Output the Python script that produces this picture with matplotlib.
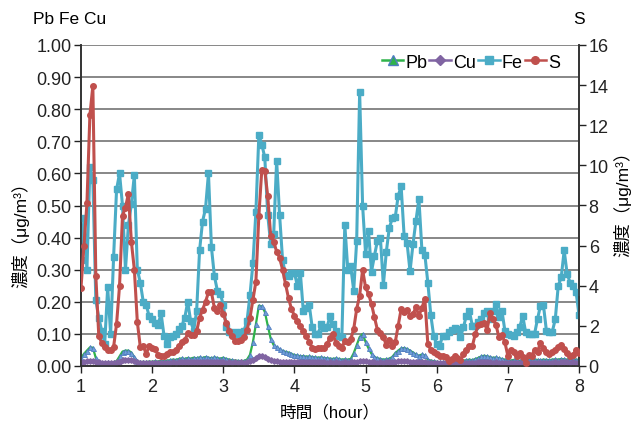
import numpy as np
import matplotlib
matplotlib.use("Agg")
import matplotlib.pyplot as plt
from matplotlib.lines import Line2D

plt.rcParams['font.family'] = ['Liberation Sans', 'Noto Sans CJK JP', 'DejaVu Sans']

# Sampling every 2.5 minutes from hour 1 to hour 8
hours = 1 + np.arange(169) / 24.0

fe = [0.33, 0.46, 0.30, 0.62, 0.58, 0.205, 0.15, 0.11, 0.07, 0.245,
      0.10, 0.34, 0.55, 0.60, 0.50, 0.30, 0.44, 0.505, 0.595, 0.30,
      0.26, 0.20, 0.19, 0.155, 0.145, 0.135, 0.127, 0.165, 0.095, 0.07,
      0.09, 0.095, 0.10, 0.115, 0.125, 0.15, 0.20, 0.14, 0.11, 0.17,
      0.36, 0.45, 0.49, 0.60, 0.37, 0.28, 0.235, 0.225, 0.19, 0.12,
      0.105, 0.10, 0.105, 0.10, 0.105, 0.11, 0.14, 0.22, 0.32, 0.48,
      0.72, 0.69, 0.65, 0.47, 0.38, 0.41, 0.64, 0.47, 0.33, 0.285,
      0.28, 0.29, 0.29, 0.25, 0.29, 0.17, 0.18, 0.19, 0.12, 0.10,
      0.10, 0.13, 0.117, 0.12, 0.157, 0.13, 0.11, 0.094, 0.089, 0.44,
      0.30, 0.31, 0.235, 0.39, 0.853, 0.50, 0.35, 0.42, 0.294, 0.344,
      0.39, 0.40, 0.252, 0.356, 0.43, 0.46, 0.463, 0.53, 0.56, 0.406,
      0.383, 0.295, 0.38, 0.453, 0.52, 0.362, 0.347, 0.26, 0.159, 0.092,
      0.068, 0.063, 0.094, 0.094, 0.105, 0.113, 0.117, 0.115, 0.089, 0.12,
      0.157, 0.172, 0.126, 0.124, 0.138, 0.146, 0.165, 0.172, 0.146, 0.17,
      0.193, 0.152, 0.172, 0.11, 0.10, 0.097, 0.092, 0.107, 0.12, 0.157,
      0.105, 0.10, 0.10, 0.10, 0.146, 0.188, 0.19, 0.11, 0.107, 0.107,
      0.146, 0.25, 0.276, 0.36, 0.287, 0.26, 0.25, 0.232, 0.159]

s = [3.9, 6.0, 8.1, 12.5, 13.96, 4.5, 1.5, 1.15, 0.95, 0.82,
     0.81, 0.95, 2.1, 4.0, 7.5, 7.9, 8.59, 6.18, 4.8, 2.2,
     0.95, 0.98, 0.61, 0.98, 0.91, 0.86, 0.55, 0.48, 0.50, 0.60,
     0.72, 0.72, 0.80, 1.0, 1.2, 1.28, 1.62, 1.53, 1.56, 1.72,
     2.4, 2.8, 3.2, 3.67, 3.67, 2.9, 2.76, 3.04, 2.6, 2.15,
     1.72, 1.48, 1.27, 1.26, 1.32, 1.45, 1.8, 2.4, 3.3, 4.2,
     7.5, 9.79, 9.74, 8.46, 6.46, 6.2, 5.7, 5.4, 4.8, 4.09,
     3.38, 2.85, 2.5, 2.25, 2.0, 1.75, 1.5, 1.21, 0.9, 0.86,
     0.88, 0.88, 0.92, 1.1, 1.4, 1.6, 1.15, 1.01, 0.88, 1.26,
     1.18, 1.35, 1.84, 2.84, 3.51, 4.80, 3.92, 3.59, 3.09, 2.43,
     1.8, 1.64, 1.43, 1.05, 1.31, 1.01, 1.18, 2.01, 2.84, 2.71,
     2.79, 2.51, 2.59, 2.92, 2.51, 2.9, 3.34, 1.10, 0.81, 0.70,
     0.6, 0.51, 0.51, 0.45, 0.27, 0.35, 0.48, 0.38, 0.32, 0.60,
     0.81, 1.01, 0.98, 1.59, 2.04, 2.09, 2.14, 1.81, 2.62, 2.34,
     2.04, 1.43, 1.55, 1.18, 0.51, 0.80, 0.68, 0.48, 0.65, 0.43,
     0.15, 0.55, 0.51, 0.80, 0.71, 1.15, 0.88, 0.68, 0.60, 0.71,
     0.81, 0.95, 1.05, 0.85, 0.65, 0.51, 0.55, 0.80, 0.65]

pb = [0.025, 0.038, 0.048, 0.058, 0.057, 0.025, 0.012, 0.010, 0.010, 0.011,
      0.010, 0.012, 0.015, 0.030, 0.045, 0.048, 0.048, 0.042, 0.027, 0.015,
      0.012, 0.013, 0.012, 0.014, 0.013, 0.015, 0.014, 0.016, 0.015, 0.017,
      0.018, 0.020, 0.019, 0.022, 0.024, 0.022, 0.025, 0.023, 0.026, 0.024,
      0.027, 0.025, 0.028, 0.026, 0.024, 0.027, 0.025, 0.023, 0.026, 0.022,
      0.020, 0.018, 0.017, 0.016, 0.015, 0.016, 0.020, 0.035, 0.075, 0.130,
      0.188, 0.186, 0.169, 0.126, 0.085, 0.065, 0.058, 0.052, 0.047, 0.044,
      0.042, 0.038, 0.034, 0.033, 0.030, 0.031, 0.029, 0.030, 0.028, 0.027,
      0.026, 0.027, 0.025, 0.024, 0.023, 0.022, 0.024, 0.022, 0.020, 0.021,
      0.020, 0.022, 0.040, 0.065, 0.090, 0.100, 0.075, 0.055, 0.038, 0.028,
      0.024, 0.022, 0.020, 0.021, 0.023, 0.028, 0.040, 0.048, 0.055, 0.056,
      0.053, 0.048, 0.042, 0.036, 0.032, 0.036, 0.033, 0.020, 0.017, 0.015,
      0.013, 0.012, 0.012, 0.013, 0.012, 0.014, 0.015, 0.016, 0.014, 0.017,
      0.018, 0.020, 0.018, 0.022, 0.025, 0.030, 0.032, 0.030, 0.028, 0.025,
      0.027, 0.024, 0.022, 0.020, 0.018, 0.017, 0.019, 0.018, 0.016, 0.018,
      0.017, 0.019, 0.018, 0.020, 0.019, 0.018, 0.020, 0.019, 0.018, 0.020,
      0.021, 0.020, 0.022, 0.021, 0.020, 0.019, 0.021, 0.020, 0.019]

cu = [0.012, 0.014, 0.016, 0.017, 0.017, 0.014, 0.011, 0.010, 0.009, 0.010,
      0.009, 0.010, 0.011, 0.014, 0.018, 0.020, 0.020, 0.019, 0.015, 0.011,
      0.009, 0.010, 0.009, 0.010, 0.009, 0.010, 0.009, 0.010, 0.009, 0.010,
      0.010, 0.011, 0.010, 0.011, 0.012, 0.011, 0.012, 0.011, 0.012, 0.011,
      0.012, 0.011, 0.012, 0.012, 0.011, 0.012, 0.011, 0.012, 0.011, 0.010,
      0.011, 0.010, 0.011, 0.010, 0.011, 0.010, 0.012, 0.015, 0.020, 0.025,
      0.030, 0.030, 0.027, 0.022, 0.018, 0.016, 0.015, 0.014, 0.013, 0.013,
      0.012, 0.012, 0.013, 0.012, 0.012, 0.011, 0.012, 0.011, 0.012, 0.011,
      0.011, 0.012, 0.011, 0.010, 0.011, 0.010, 0.011, 0.010, 0.010, 0.011,
      0.010, 0.011, 0.012, 0.014, 0.016, 0.017, 0.015, 0.013, 0.012, 0.011,
      0.010, 0.011, 0.010, 0.011, 0.012, 0.013, 0.014, 0.015, 0.016, 0.016,
      0.015, 0.014, 0.013, 0.013, 0.012, 0.012, 0.011, 0.010, 0.009, 0.009,
      0.008, 0.008, 0.009, 0.008, 0.009, 0.008, 0.009, 0.008, 0.009, 0.009,
      0.010, 0.010, 0.009, 0.010, 0.011, 0.012, 0.012, 0.011, 0.011, 0.010,
      0.011, 0.010, 0.010, 0.009, 0.009, 0.010, 0.009, 0.010, 0.009, 0.010,
      0.009, 0.010, 0.009, 0.010, 0.010, 0.009, 0.010, 0.009, 0.010, 0.010,
      0.011, 0.010, 0.011, 0.012, 0.011, 0.010, 0.011, 0.010, 0.010]

left_ticks = [0.0, 0.1, 0.2, 0.3, 0.4, 0.5, 0.6, 0.7, 0.8, 0.9, 1.0]
right_ticks = [0, 2, 4, 6, 8, 10, 12, 14, 16]
hour_ticks = [1, 2, 3, 4, 5, 6, 7, 8]

C_FE = '#4bacc6'
C_S = '#c0504d'
C_PB = '#2fb34a'
C_PB_EDGE = '#4f7cc0'
C_CU = '#8064a2'
FS = 13

fig = plt.figure(figsize=(6.32, 4.27), dpi=100)
ax = fig.add_axes([81 / 632, 1 - 367 / 427, 498 / 632, 321 / 427])
ax2 = ax.twinx()

ax.plot(hours, fe, color=C_FE, lw=2.2, marker='s', ms=4.2,
        mfc=C_FE, mec=C_FE, zorder=3)
ax.plot(hours, pb, color=C_PB, lw=1.6, marker='^', ms=3.6,
        mfc='#6f9fd8', mec=C_PB_EDGE, mew=0.6, zorder=4)
ax.plot(hours, cu, color=C_CU, lw=1.6, marker='D', ms=2.8,
        mfc=C_CU, mec=C_CU, zorder=4)
ax2.plot(hours, s, color=C_S, lw=2.2, marker='o', ms=4.0,
         mfc=C_S, mec=C_S, zorder=3)

ax.set_xlim(1, 8)
ax.set_ylim(0, 1.0)
ax2.set_ylim(0, 16)
ax.set_xticks(hour_ticks)
ax.set_xticklabels([str(h) for h in hour_ticks], fontsize=FS)
ax.set_yticks(left_ticks)
ax.set_yticklabels([f"{v:.2f}" for v in left_ticks], fontsize=FS)
ax2.set_yticks(right_ticks)
ax2.set_yticklabels([str(v) for v in right_ticks], fontsize=FS)

ax.yaxis.grid(True, color='#878787', lw=1.4)
ax.set_axisbelow(True)
ax.tick_params(axis='both', direction='out', length=5, width=1.0, colors='#222222', pad=2)
ax2.tick_params(axis='y', direction='out', length=5, width=1.0, colors='#222222', pad=2)
ax.tick_params(axis='x', pad=4)

for a in (ax, ax2):
    a.spines['top'].set_visible(False)
    for side in ('left', 'right', 'bottom'):
        a.spines[side].set_color('#333333')
        a.spines[side].set_linewidth(1.2)

ax.set_xlabel('時間（hour）', fontsize=FS - 1, labelpad=6)
ax.set_ylabel('濃度（μg/m³）', fontsize=FS - 0.5)
ax.yaxis.set_label_coords(-0.104, 0.425)
ax2.set_ylabel('濃度（μg/m³）', fontsize=FS - 0.5, rotation=90)
ax2.yaxis.set_label_coords(1.068, 0.52)

fig.text(33 / 632, 1 - 20 / 427, 'Pb Fe Cu', fontsize=FS - 0.5, ha='left', va='center')
fig.text(579 / 632, 1 - 20 / 427, 'S', fontsize=FS - 0.5, ha='center', va='center')

handles = [
    Line2D([], [], color=C_PB, lw=1.8, marker='^', ms=7, mfc=C_PB, mec=C_PB_EDGE, mew=1.0),
    Line2D([], [], color=C_CU, lw=1.8, marker='D', ms=5.5, mfc=C_CU, mec=C_CU),
    Line2D([], [], color=C_FE, lw=1.8, marker='s', ms=5.5, mfc=C_FE, mec=C_FE),
    Line2D([], [], color=C_S, lw=1.8, marker='o', ms=5.5, mfc=C_S, mec=C_S),
]
ax2.legend(handles, ['Pb', 'Cu', 'Fe', 'S'], loc='center right',
           bbox_to_anchor=(0.962, 0.947), ncol=4, frameon=False,
           fontsize=FS, handlelength=1.2, handletextpad=0.1,
           columnspacing=0.12, borderaxespad=0, borderpad=0)

fig.savefig('out.png', dpi=100)
